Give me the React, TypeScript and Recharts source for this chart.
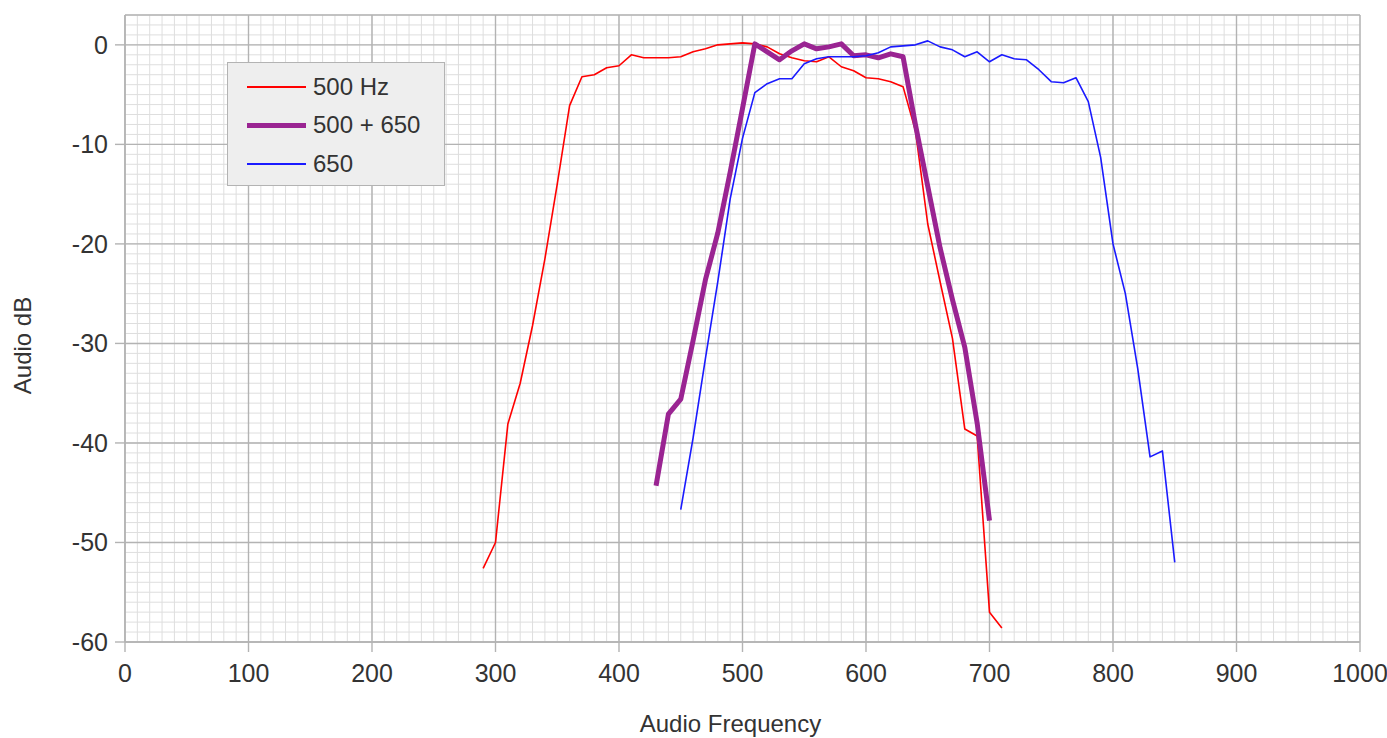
import { LineChart, Line, XAxis, YAxis, CartesianGrid, Legend } from 'recharts'

const FONT = '"Liberation Sans", Arial, sans-serif'
const TEXT = '#333333'
const MAJOR = '#b3b3b3'
const MINOR = '#dedede'
const FS = 25

// 500 Hz filter on its own
const freq500 = [290, 300, 310, 320, 330, 340, 350, 360, 370, 380, 390, 400, 410, 420, 430, 440, 450, 460, 470, 480, 490, 500, 510, 520, 530, 540, 550, 560, 570, 580, 590, 600, 610, 620, 630, 640, 650, 660, 670, 680, 690, 700, 710]
const db500 = [-52.6, -50.0, -38.1, -34.0, -28.2, -21.5, -14.0, -6.1, -3.2, -3.0, -2.3, -2.1, -1.0, -1.3, -1.3, -1.3, -1.2, -0.7, -0.4, 0.0, 0.1, 0.2, 0.1, -0.2, -0.9, -1.3, -1.6, -1.7, -1.2, -2.2, -2.6, -3.3, -3.4, -3.7, -4.2, -8.6, -18.0, -23.8, -29.5, -38.6, -39.3, -57.0, -58.6]

// both filters together
const freqBoth = [430, 440, 450, 460, 470, 480, 490, 500, 510, 520, 530, 540, 550, 560, 570, 580, 590, 600, 610, 620, 630, 640, 650, 660, 670, 680, 690, 700]
const dbBoth = [-44.3, -37.1, -35.6, -29.7, -23.6, -18.9, -12.8, -6.4, 0.1, -0.7, -1.5, -0.6, 0.1, -0.4, -0.2, 0.1, -1.1, -1.0, -1.3, -0.9, -1.2, -8.0, -14.2, -20.4, -25.6, -30.4, -38.0, -47.8]

// 650 Hz filter on its own
const freq650 = [450, 460, 470, 480, 490, 500, 510, 520, 530, 540, 550, 560, 570, 580, 590, 600, 610, 620, 630, 640, 650, 660, 670, 680, 690, 700, 710, 720, 730, 740, 750, 760, 770, 780, 790, 800, 810, 820, 830, 840, 850]
const db650 = [-46.7, -39.5, -31.5, -23.8, -15.5, -9.4, -4.8, -3.9, -3.4, -3.4, -1.9, -1.4, -1.2, -1.2, -1.2, -1.1, -0.8, -0.2, -0.1, 0.0, 0.4, -0.2, -0.5, -1.2, -0.7, -1.7, -1.0, -1.4, -1.5, -2.5, -3.7, -3.8, -3.3, -5.7, -11.3, -20.0, -25.0, -32.5, -41.4, -40.8, -52.0]

const xTicks = [0, 100, 200, 300, 400, 500, 600, 700, 800, 900, 1000]
const yTicks = [-60, -50, -40, -30, -20, -10, 0]

// minor grid: every 10 Hz and every 1 dB (up to the +3 dB top edge)
const xMinor = Array.from({ length: 101 }, (_, i) => i * 10)
const yMinor = Array.from({ length: 64 }, (_, i) => i - 60)

const toPoints = (f: number[], db: number[]) => f.map((x, i) => ({ f: x, db: db[i] }))

const SERIES = [
  { name: '500 Hz', color: '#ff0000', width: 1.6, data: toPoints(freq500, db500) },
  { name: '500 + 650', color: '#9a2492', width: 5, data: toPoints(freqBoth, dbBoth) },
  { name: '650', color: '#1a1aff', width: 1.6, data: toPoints(freq650, db650) },
]

// recharts 3 may hand over either a d3 scale or its own wrapper with .map()
// eslint-disable-next-line @typescript-eslint/no-explicit-any
function project(axis: any, values: number[]): number[] {
  const sc = axis?.scale
  if (!sc) return []
  if (typeof sc === 'function') return values.map(v => sc(v))
  if (typeof sc.map === 'function') return values.map(v => sc.map(v))
  return []
}

function LegendBox() {
  return (
    <div
      style={{
        width: 218,
        height: 124,
        boxSizing: 'border-box',
        background: '#eeeeee',
        border: `1px solid ${MAJOR}`,
        paddingTop: 5,
        fontFamily: FONT,
        fontSize: FS - 1,
        color: TEXT,
      }}
    >
      {SERIES.map(s => (
        <div key={s.name} style={{ display: 'flex', alignItems: 'center', height: 38.3, paddingLeft: 19 }}>
          <div style={{ width: 59, height: Math.max(2, s.width), background: s.color, marginRight: 7, flex: 'none' }} />
          <span>{s.name}</span>
        </div>
      ))}
    </div>
  )
}

// eslint-disable-next-line @typescript-eslint/no-explicit-any
function XTitle({ viewBox }: any) {
  return (
    <text x={viewBox.x + viewBox.width / 2 - 12} y={viewBox.y + 90} textAnchor="middle" fontSize={FS - 1} fill={TEXT} fontFamily={FONT}>
      Audio Frequency
    </text>
  )
}

// eslint-disable-next-line @typescript-eslint/no-explicit-any
function YTitle({ viewBox }: any) {
  const cx = viewBox.x + 22
  const cy = viewBox.y + viewBox.height / 2 + 17
  return (
    <text x={cx} y={cy} transform={`rotate(-90 ${cx} ${cy})`} textAnchor="middle" dominantBaseline="central" fontSize={FS - 1} fill={TEXT} fontFamily={FONT}>
      Audio dB
    </text>
  )
}

export default function App() {
  return (
    <div style={{ position: 'fixed', left: 0, top: 0, background: '#fff' }}>
      <LineChart width={1387} height={738} margin={{ top: 15, right: 27, left: 0, bottom: 0 }} style={{ fontFamily: FONT }}>
        {/* minor grid, placed through the axis scales */}
        <CartesianGrid
          stroke={MINOR}
          strokeWidth={1}
          // eslint-disable-next-line @typescript-eslint/no-explicit-any
          verticalCoordinatesGenerator={({ xAxis }: any) => project(xAxis, xMinor)}
          // eslint-disable-next-line @typescript-eslint/no-explicit-any
          horizontalCoordinatesGenerator={({ yAxis }: any) => project(yAxis, yMinor)}
        />
        <CartesianGrid stroke={MAJOR} strokeWidth={1.4} />
        <XAxis
          type="number"
          dataKey="f"
          domain={[0, 1000]}
          ticks={xTicks}
          interval={0}
          height={96}
          tickSize={10}
          tickMargin={12}
          stroke={MAJOR}
          strokeWidth={1.4}
          tick={{ fontSize: FS, fill: TEXT }}
          label={XTitle}
        />
        <YAxis
          type="number"
          domain={[-60, 3]}
          ticks={yTicks}
          interval={0}
          width={125}
          tickSize={10}
          tickMargin={7}
          stroke={MAJOR}
          strokeWidth={1.4}
          tick={{ fontSize: FS, fill: TEXT }}
          label={YTitle}
        />
        <Legend
          layout="horizontal"
          align="center"
          verticalAlign="middle"
          wrapperStyle={{ left: 227, top: 62, width: 'auto', height: 'auto' }}
          content={<LegendBox />}
        />
        {SERIES.map(s => (
          <Line
            key={s.name}
            data={s.data}
            dataKey="db"
            name={s.name}
            type="linear"
            stroke={s.color}
            strokeWidth={s.width}
            strokeLinejoin="round"
            dot={false}
            activeDot={false}
            isAnimationActive={false}
          />
        ))}
      </LineChart>
    </div>
  )
}
